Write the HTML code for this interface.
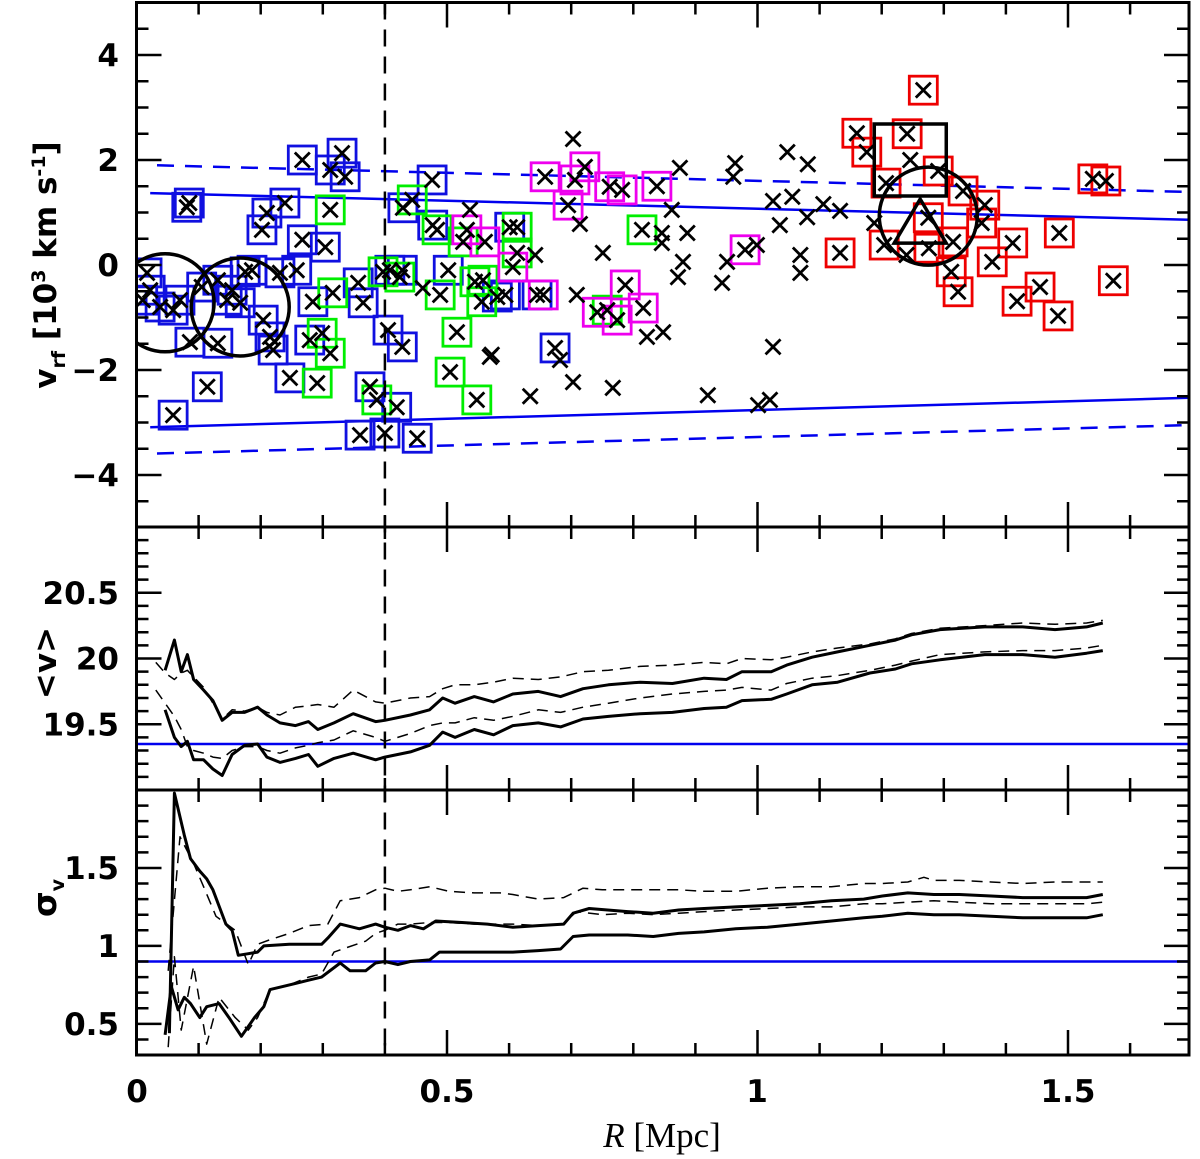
<!DOCTYPE html>
<html><head><meta charset="utf-8">
<style>
html,body{margin:0;padding:0;background:#fff;}
svg{display:block;}
.tl{font-family:"DejaVu Sans","Liberation Sans",sans-serif;font-weight:bold;font-size:31px;fill:#000;}
.al{font-family:"DejaVu Sans","Liberation Sans",sans-serif;font-weight:bold;fill:#000;}
</style></head>
<body>
<svg id="fig" width="1200" height="1159" viewBox="0 0 1200 1159" xmlns="http://www.w3.org/2000/svg">
<defs>
<clipPath id="cTop"><rect x="136.5" y="2.5" width="1052.5" height="525"/></clipPath>
<clipPath id="cMid"><rect x="136.5" y="527" width="1052.5" height="263"/></clipPath>
<clipPath id="cBot"><rect x="136.5" y="790" width="1052.5" height="265"/></clipPath>
</defs>
<g id="gTop"></g>
<g id="gMid"></g>
<g id="gBot"></g>
<g id="gAxes"></g>
<text class="tl" x="137" y="1102" text-anchor="middle">0</text>
<text class="tl" x="447" y="1102" text-anchor="middle">0.5</text>
<text class="tl" x="757" y="1102" text-anchor="middle">1</text>
<text class="tl" x="1068" y="1102" text-anchor="middle">1.5</text>
<text x="662" y="1147" text-anchor="middle" font-family="'Liberation Serif',serif" font-size="35"><tspan font-style="italic">R</tspan> [Mpc]</text>
<text class="al" font-size="31" transform="translate(56,265) rotate(-90)" text-anchor="middle">v<tspan font-size="19" dy="9">rf</tspan><tspan dy="-9"> [10</tspan><tspan font-size="19" dy="-11">3</tspan><tspan dy="11"> km s</tspan><tspan font-size="19" dy="-11">-1</tspan><tspan dy="11">]</tspan></text>
<text class="al" font-size="31" transform="translate(56,663) rotate(-90)" text-anchor="middle">&lt;v&gt;</text>
<text class="al" font-size="33" transform="translate(56,898) rotate(-90)" text-anchor="middle">σ<tspan font-size="19" dy="8">v</tspan></text>
</svg>
<script>
// ---------- data ----------
const bandR = [0.022, 1.695];
const bandUpperSolid = [1.37, 0.86];
const bandLowerSolid = [-3.09, -2.53];
const bandDashR = [0.033, 1.695];
const bandUpperDash = [1.90, 1.39];
const bandLowerDash = [-3.59, -3.05];

const blueR = [0.267,0.331,0.312,0.336,0.081,0.085,0.239,0.210,0.202,0.267,0.304,0.476,0.429,0.477,0.017,0.010,0.038,0.059,0.105,0.131,0.146,0.167,0.186,0.231,0.258,0.284,0.204,0.086,0.131,0.215,0.220,0.279,0.247,0.114,0.059,0.365,0.357,0.408,0.428,0.502,0.405,0.428,0.376,0.419,0.360,0.400,0.452,0.581,0.601,0.594,0.645,0.674,0.022,0.070,0.154,0.175];
const blueV = [2.00,2.13,1.81,1.68,1.10,1.18,1.18,0.99,0.67,0.48,0.34,1.62,1.09,0.76,-0.15,-0.67,-0.80,-0.86,-0.42,-0.29,-0.67,-0.72,-0.10,-0.15,-0.10,-0.70,-1.05,-1.47,-1.49,-1.37,-1.62,-1.43,-2.15,-2.32,-2.86,-0.72,-0.34,-0.10,-0.10,-0.10,-1.24,-1.56,-2.32,-2.71,-3.24,-3.20,-3.30,-0.61,0.72,-0.57,-0.57,-1.58,-0.48,-0.67,-0.48,-0.13];
const greenR = [0.312,0.444,0.484,0.526,0.316,0.299,0.312,0.291,0.387,0.516,0.505,0.548,0.545,0.489,0.556,0.397,0.424,0.814,0.613,0.613,0.758,0.558];
const greenV = [1.05,1.24,0.67,0.44,-0.53,-1.30,-1.68,-2.25,-2.57,-1.28,-2.04,-2.57,-0.32,-0.57,-0.70,-0.13,-0.23,0.67,0.72,0.23,-0.86,-0.29];
const magentaR = [0.532,0.561,0.658,0.706,0.722,0.695,0.762,0.782,0.838,0.606,0.655,0.787,0.742,0.774,0.816,0.980];
const magentaV = [0.67,0.44,1.68,1.62,1.87,1.14,1.49,1.43,1.50,-0.04,-0.57,-0.38,-0.90,-1.05,-0.82,0.29];
const redR = [1.267,1.160,1.176,1.241,1.291,1.207,1.331,1.366,1.361,1.275,1.204,1.276,1.315,1.312,1.323,1.378,1.411,1.486,1.455,1.418,1.484,1.573,1.133,1.540,1.561];
const redV = [3.33,2.51,2.15,2.50,1.79,1.56,1.41,1.14,0.80,0.90,0.38,0.32,0.44,-0.13,-0.51,0.06,0.42,0.61,-0.42,-0.69,-0.97,-0.30,0.23,1.64,1.60];
const plainR = [0.703,0.875,0.964,0.961,1.048,1.081,1.025,1.056,1.106,0.862,0.714,0.846,0.887,0.846,1.036,1.080,0.642,0.751,0.880,0.951,0.999,1.069,1.069,0.872,0.943,0.709,0.822,0.848,0.572,0.682,0.703,0.634,0.767,1.025,0.920,1.001,1.020,1.246,1.133,1.188,1.240,0.569,0.537,0.461];
const plainV = [2.40,1.85,1.94,1.68,2.15,1.92,1.22,1.30,1.16,1.05,0.78,0.61,0.61,0.42,0.76,0.91,0.19,0.23,0.06,0.06,0.38,0.19,-0.15,-0.23,-0.34,-0.57,-1.37,-1.28,-1.71,-1.81,-2.23,-2.50,-2.34,-1.56,-2.48,-2.67,-2.57,2.00,1.03,0.80,0.19,-1.75,1.05,-0.44];
const circleR = [0.046, 0.167, 1.275];
const circleV = [-0.72, -0.80, 0.93];
const squareR = [1.246]; const squareV = [2.0];
const triangleR = [1.262]; const triangleV = [0.76];

const meanR = [0.031,0.046,0.061,0.072,0.082,0.092,0.108,0.123,0.138,0.154,0.174,0.195,0.210,0.231,0.256,0.277,0.292,0.318,0.349,0.385,0.400,0.441,0.472,0.493,0.513,0.544,0.575,0.606,0.647,0.683,0.719,0.760,0.811,0.863,0.914,0.950,0.975,1.022,1.047,1.088,1.129,1.181,1.222,1.248,1.294,1.366,1.427,1.479,1.530,1.556];
const meanSolidUp = [null,19.91,20.14,19.90,20.03,19.84,19.76,19.68,19.53,19.59,19.59,19.63,19.57,19.51,19.49,19.52,19.46,19.51,19.58,19.52,19.53,19.57,19.61,19.70,19.66,19.71,19.67,19.73,19.75,19.71,19.77,19.80,19.82,19.81,19.85,19.84,19.90,19.90,19.95,20.01,20.05,20.10,20.14,20.18,20.22,20.24,20.24,20.22,20.24,20.27];
const meanSolidLo = [null,19.61,19.40,19.33,19.37,19.23,19.23,19.16,19.11,19.27,19.34,19.35,19.25,19.21,19.24,19.27,19.18,19.24,19.28,19.23,19.25,19.29,19.34,19.44,19.40,19.46,19.42,19.49,19.51,19.48,19.54,19.56,19.58,19.59,19.62,19.63,19.68,19.69,19.73,19.80,19.82,19.89,19.92,19.96,19.99,20.03,20.03,20.01,20.04,20.06];
const meanDashUp = [19.97,19.89,19.84,19.89,19.91,19.86,19.78,19.66,19.54,19.61,19.60,19.63,19.59,19.57,19.63,19.64,19.65,19.63,19.76,19.67,19.66,19.70,19.71,19.77,19.80,19.80,19.82,19.85,19.84,19.86,19.90,19.91,19.94,19.95,19.97,19.96,20.00,19.99,20.01,20.05,20.08,20.11,20.15,20.19,20.23,20.25,20.27,20.26,20.27,20.29];
const meanDashLo = [19.76,19.66,19.56,19.46,19.33,19.30,19.28,19.25,19.24,19.30,19.33,19.33,19.30,19.28,19.32,19.34,19.36,19.38,19.45,19.40,19.37,19.43,19.49,19.51,19.51,19.55,19.53,19.56,19.61,19.59,19.63,19.66,19.70,19.73,19.75,19.76,19.78,19.76,19.81,19.85,19.87,19.91,19.95,19.98,20.03,20.05,20.06,20.06,20.08,20.10];
const meanRef = [19.35];

const sigSolidUpR = [0.053,0.061,0.077,0.087,0.102,0.113,0.123,0.144,0.154,0.164,0.180,0.195,0.205,0.246,0.298,0.308,0.328,0.359,0.385,0.400,0.421,0.441,0.462,0.482,0.524,0.565,0.606,0.647,0.688,0.703,0.729,0.791,0.832,0.873,0.914,0.965,1.016,1.068,1.119,1.171,1.201,1.242,1.284,1.325,1.376,1.427,1.479,1.530,1.556];
const sigSolidUp = [0.44,1.98,1.71,1.56,1.48,1.43,1.36,1.14,1.10,0.94,0.95,0.96,1.00,1.01,1.01,1.05,1.14,1.11,1.14,1.12,1.10,1.13,1.11,1.16,1.15,1.14,1.12,1.13,1.14,1.21,1.24,1.22,1.21,1.23,1.24,1.25,1.26,1.27,1.29,1.30,1.32,1.34,1.33,1.33,1.32,1.31,1.31,1.31,1.33];
const sigSolidLoR = [0.046,0.056,0.067,0.077,0.087,0.102,0.113,0.133,0.149,0.169,0.190,0.205,0.215,0.236,0.257,0.277,0.298,0.328,0.344,0.369,0.385,0.400,0.421,0.441,0.472,0.488,0.524,0.565,0.606,0.647,0.683,0.703,0.729,0.791,0.832,0.873,0.914,0.965,1.016,1.068,1.119,1.171,1.201,1.242,1.284,1.325,1.376,1.427,1.479,1.530,1.556];
const sigSolidLo = [0.43,0.74,0.59,0.67,0.63,0.54,0.61,0.63,0.54,0.42,0.54,0.61,0.72,0.74,0.76,0.78,0.80,0.89,0.84,0.84,0.89,0.90,0.88,0.90,0.91,0.96,0.96,0.96,0.96,0.97,0.98,1.06,1.07,1.07,1.06,1.08,1.09,1.11,1.12,1.14,1.16,1.18,1.19,1.21,1.20,1.20,1.19,1.18,1.18,1.18,1.20];
const sigDashUpR = [0.051,0.070,0.092,0.108,0.128,0.159,0.180,0.195,0.215,0.246,0.277,0.308,0.328,0.359,0.385,0.400,0.421,0.441,0.472,0.503,0.544,0.585,0.606,0.647,0.688,0.719,0.750,0.791,0.832,0.873,0.914,0.965,1.016,1.068,1.119,1.171,1.201,1.242,1.268,1.284,1.325,1.376,1.427,1.479,1.530,1.556];
const sigDashUp = [0.84,1.70,1.53,1.38,1.19,1.10,0.88,1.01,1.04,1.08,1.13,1.14,1.29,1.31,1.36,1.37,1.35,1.36,1.38,1.35,1.34,1.34,1.33,1.30,1.31,1.37,1.36,1.36,1.36,1.36,1.35,1.35,1.37,1.38,1.38,1.40,1.40,1.41,1.44,1.42,1.42,1.41,1.40,1.41,1.41,1.41];
const sigDashLoR = [0.051,0.061,0.072,0.092,0.113,0.133,0.159,0.180,0.195,0.215,0.246,0.277,0.298,0.318,0.339,0.369,0.385,0.400,0.421,0.441,0.472,0.503,0.544,0.585,0.606,0.647,0.688,0.708,0.750,0.791,0.832,0.873,0.914,0.965,1.016,1.068,1.119,1.171,1.201,1.242,1.284,1.325,1.376,1.427,1.479,1.530,1.556];
const sigDashLo = [0.35,0.93,0.46,0.87,0.37,0.67,0.54,0.46,0.54,0.72,0.75,0.80,0.82,0.96,0.99,1.03,1.08,1.10,1.14,1.14,1.15,1.15,1.14,1.14,1.14,1.13,1.14,1.22,1.20,1.21,1.20,1.21,1.22,1.23,1.24,1.25,1.25,1.27,1.27,1.28,1.29,1.28,1.27,1.27,1.27,1.27,1.28];
const sigRef = [0.9];
const splitR = [0.4];

const topTicks = [-4,-2,0,2,4];
const midTicks = [19.5,20,20.5];
const botTicks = [0.5,1,1.5];
const xTicks = [0,0.5,1,1.5];

// ---------- scales ----------
const X0 = 136.5, X1 = 1189, XS = 621;
const xS = r => X0 + r * XS;
const yT = v => 265 - v * 52.5;
const yM = v => 527 + (21 - v) * 131.5;
const yB = s => 790 + (2.0 - s) * 155.9;
const NS = "http://www.w3.org/2000/svg";
function mk(tag, attrs, parent) {
  const e = document.createElementNS(NS, tag);
  for (const k in attrs) e.setAttribute(k, attrs[k]);
  parent.appendChild(e);
  return e;
}
const gTop = document.getElementById('gTop');
const gMid = document.getElementById('gMid');
const gBot = document.getElementById('gBot');
const gAx = document.getElementById('gAxes');
const svg = document.getElementById('fig');

function poly(R, V, ys, parent, clip, style, name) {
  let d = "", pen = false;
  for (let i = 0; i < R.length; i++) {
    if (V[i] === null) { pen = false; continue; }
    d += (pen ? "L" : "M") + xS(R[i]).toFixed(1) + " " + ys(V[i]).toFixed(1);
    pen = true;
  }
  const p = mk('path', Object.assign({d: d, fill: 'none', 'clip-path': 'url(#' + clip + ')', 'stroke-linejoin': 'round'}, style), parent);
  
  
}

poly(bandR, bandUpperSolid, yT, gTop, 'cTop', {stroke: '#0000ee', 'stroke-width': 2.5}, 'upper-solid-band');
poly(bandR, bandLowerSolid, yT, gTop, 'cTop', {stroke: '#0000ee', 'stroke-width': 2.5}, 'lower-solid-band');
poly(bandDashR, bandUpperDash, yT, gTop, 'cTop', {stroke: '#0000ee', 'stroke-width': 2.5, 'stroke-dasharray': '17 11'}, 'upper-dashed-band');
poly(bandDashR, bandLowerDash, yT, gTop, 'cTop', {stroke: '#0000ee', 'stroke-width': 2.5, 'stroke-dasharray': '17 11'}, 'lower-dashed-band');

function boxes(R, V, color, name) {
  const g = mk('g', {'clip-path': 'url(#cTop)'}, gTop);
  
  
  for (let i = 0; i < R.length; i++) {
    const r = mk('rect', {x: xS(R[i]) - 14, y: yT(V[i]) - 14, width: 28, height: 28, fill: 'none', stroke: color, 'stroke-width': 2.8}, g);
    
    
  }
}
function crosses(R, V, name) {
  const g = mk('g', {'clip-path': 'url(#cTop)'}, gTop);
  
  
  for (let i = 0; i < R.length; i++) {
    const x = xS(R[i]), y = yT(V[i]);
    const p = mk('path', {d: `M${x-7.5} ${y-7.5}L${x+7.5} ${y+7.5}M${x+7.5} ${y-7.5}L${x-7.5} ${y+7.5}`, stroke: '#000', 'stroke-width': 2.8, fill: 'none'}, g);
    
    
  }
}
boxes(blueR, blueV, '#1010e0', 'blue-member');
boxes(greenR, greenV, '#00ee00', 'green-member');
boxes(magentaR, magentaV, '#ee00ee', 'magenta-member');
boxes(redR, redV, '#ee0000', 'red-member');
crosses(blueR, blueV, 'blue-member');
crosses(greenR, greenV, 'green-member');
crosses(magentaR, magentaV, 'magenta-member');
crosses(redR, redV, 'red-member');
crosses(plainR, plainV, 'galaxy');

for (let i = 0; i < circleR.length; i++) {
  const c = mk('circle', {cx: xS(circleR[i]), cy: yT(circleV[i]), r: 49, fill: 'none', stroke: '#000', 'stroke-width': 3.5, 'clip-path': 'url(#cTop)'}, gTop);
  
  
}
for (let i = 0; i < squareR.length; i++) {
  const s = mk('rect', {x: xS(squareR[i]) - 36, y: yT(squareV[i]) - 36, width: 72, height: 72, fill: 'none', stroke: '#000', 'stroke-width': 3.5}, gTop);
  
  
}
for (let i = 0; i < triangleR.length; i++) {
  const x = xS(triangleR[i]), y = yT(triangleV[i]);
  const t = mk('path', {d: `M${x} ${y-26}L${x+26} ${y+18}L${x-26} ${y+18}Z`, fill: 'none', stroke: '#000', 'stroke-width': 3.5, 'stroke-linejoin': 'miter'}, gTop);
  
  
}

const mref = mk('line', {x1: X0, x2: X1, y1: yM(meanRef[0]), y2: yM(meanRef[0]), stroke: '#0000ee', 'stroke-width': 2.5}, gMid);


poly(meanR, meanDashUp, yM, gMid, 'cMid', {stroke: '#000', 'stroke-width': 1.5, 'stroke-dasharray': '11 7'}, 'mean-dashed-upper');
poly(meanR, meanDashLo, yM, gMid, 'cMid', {stroke: '#000', 'stroke-width': 1.5, 'stroke-dasharray': '11 7'}, 'mean-dashed-lower');
poly(meanR, meanSolidUp, yM, gMid, 'cMid', {stroke: '#000', 'stroke-width': 3}, 'mean-solid-upper');
poly(meanR, meanSolidLo, yM, gMid, 'cMid', {stroke: '#000', 'stroke-width': 3}, 'mean-solid-lower');

const sref = mk('line', {x1: X0, x2: X1, y1: yB(sigRef[0]), y2: yB(sigRef[0]), stroke: '#0000ee', 'stroke-width': 2.5}, gBot);


poly(sigDashUpR, sigDashUp, yB, gBot, 'cBot', {stroke: '#000', 'stroke-width': 1.5, 'stroke-dasharray': '11 7'}, 'sigma-dashed-upper');
poly(sigDashLoR, sigDashLo, yB, gBot, 'cBot', {stroke: '#000', 'stroke-width': 1.5, 'stroke-dasharray': '11 7'}, 'sigma-dashed-lower');
poly(sigSolidUpR, sigSolidUp, yB, gBot, 'cBot', {stroke: '#000', 'stroke-width': 3}, 'sigma-solid-upper');
poly(sigSolidLoR, sigSolidLo, yB, gBot, 'cBot', {stroke: '#000', 'stroke-width': 3}, 'sigma-solid-lower');

const vl = mk('line', {x1: xS(splitR[0]), x2: xS(splitR[0]), y1: 2.5, y2: 1055, stroke: '#000', 'stroke-width': 2.5, 'stroke-dasharray': '17 10'}, gAx);



function ticksPanel(yTop, yBot, ys, lo, hi, minor, major, labels, name) {
  const fr = mk('rect', {x: X0, y: yTop, width: X1 - X0, height: yBot - yTop, fill: 'none', stroke: '#000', 'stroke-width': 3}, gAx);
  
  
  let d = "";
  const n0 = Math.ceil(lo / minor - 1e-6), n1 = Math.floor(hi / minor + 1e-6);
  for (let k = n0; k <= n1; k++) {
    const v = k * minor; const y = ys(v);
    if (y < yTop + 1 || y > yBot - 1) continue;
    const isMaj = Math.abs(v / major - Math.round(v / major)) < 1e-6;
    const L = isMaj ? 25 : 12;
    d += `M${X0} ${y}h${L}M${X1} ${y}h${-L}`;
  }
  for (let k = 1; k <= 16; k++) {
    const r = k * 0.1; const x = xS(r);
    const isMaj = Math.abs(r / 0.5 - Math.round(r / 0.5)) < 1e-6;
    const L = isMaj ? 25 : 12;
    d += `M${x} ${yTop}v${L}M${x} ${yBot}v${-L}`;
  }
  const p = mk('path', {d: d, stroke: '#000', 'stroke-width': 2.5, fill: 'none'}, gAx);
  
  
  labels.forEach(v => {
    const t = mk('text', {x: 119, y: ys(v) + 11, 'text-anchor': 'end', class: 'tl'}, svg);
    t.textContent = (v < 0 ? '\u2212' + Math.abs(v) : String(v));
    
    
  });
}
ticksPanel(2.5, 527, yT, -5, 5, 0.5, 2, topTicks, 'top-panel');
ticksPanel(527, 790, yM, 19, 21, 0.1, 0.5, midTicks, 'mean-panel');
ticksPanel(790, 1055, yB, 0.3, 2.0, 0.1, 0.5, botTicks, 'sigma-panel');
</script>
</body></html>
